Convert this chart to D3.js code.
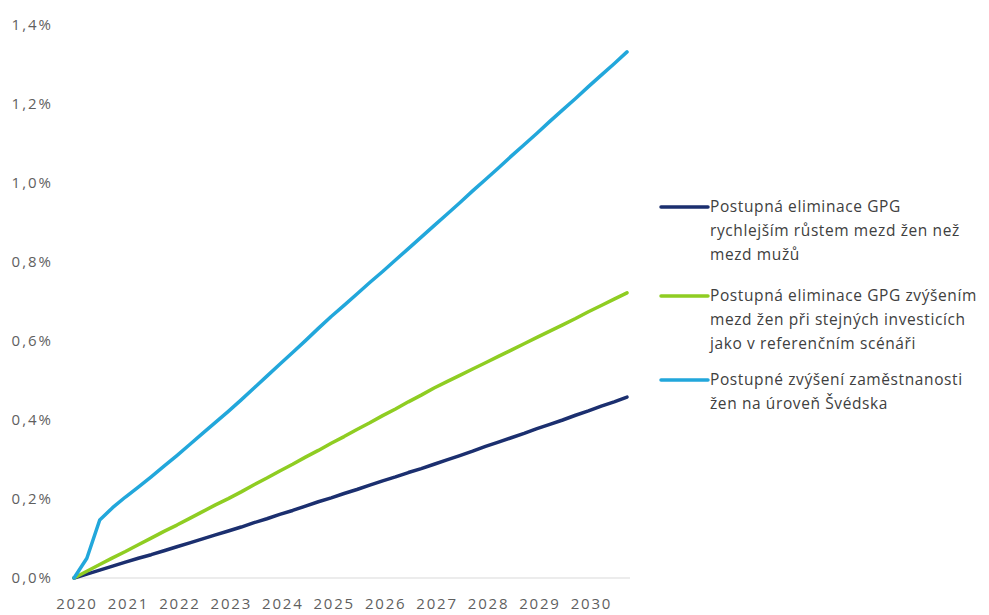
<!DOCTYPE html>
<html>
<head>
<meta charset="utf-8">
<script src="https://cdn.jsdelivr.net/npm/d3@7"></script>
<style>
  body { margin: 0; background: #fff; }
  svg { display: block; font-family: "Open Sans", sans-serif; }
</style>
</head>
<body>
<div id="chart"></div>
<script>
// Čtvrtletní data 2020Q1 – 2030Q4 (v %)
const years = ["2020", "2021", "2022", "2023", "2024", "2025", "2026", "2027", "2028", "2029", "2030"];
const yTicks = [0, 0.2, 0.4, 0.6, 0.8, 1.0, 1.2, 1.4];

const gpgRust = [
    0.000, 0.010, 0.020, 0.030, 0.040, 0.050, 0.059, 0.069, 0.079, 0.089, 0.099,
    0.109, 0.119, 0.129, 0.140, 0.150, 0.161, 0.171, 0.182, 0.193, 0.203, 0.214,
    0.224, 0.235, 0.246, 0.256, 0.267, 0.277, 0.288, 0.299, 0.310, 0.321, 0.333,
    0.344, 0.355, 0.366, 0.378, 0.389, 0.400, 0.412, 0.423, 0.435, 0.446, 0.458
];
const gpgInvestice = [
    0.000, 0.017, 0.034, 0.051, 0.067, 0.084, 0.101, 0.118, 0.134, 0.151, 0.168,
    0.185, 0.201, 0.218, 0.236, 0.253, 0.271, 0.288, 0.306, 0.323, 0.341, 0.358,
    0.376, 0.393, 0.411, 0.428, 0.446, 0.463, 0.481, 0.497, 0.513, 0.529, 0.545,
    0.561, 0.577, 0.593, 0.609, 0.625, 0.641, 0.657, 0.674, 0.690, 0.706, 0.722
];
const zamestnanost = [
    0.000, 0.050, 0.147, 0.178, 0.205, 0.230, 0.256, 0.283, 0.310, 0.338, 0.366,
    0.394, 0.422, 0.451, 0.481, 0.511, 0.541, 0.571, 0.601, 0.632, 0.662, 0.690,
    0.719, 0.748, 0.776, 0.805, 0.834, 0.863, 0.892, 0.921, 0.950, 0.980, 1.009,
    1.038, 1.068, 1.097, 1.126, 1.156, 1.185, 1.214, 1.244, 1.273, 1.302, 1.332
];

const seriesLabels = [
    ["Postupná eliminace GPG", "rychlejším růstem mezd žen než", "mezd mužů"],
    ["Postupná eliminace GPG zvýšením", "mezd žen při stejných investicích", "jako v referenčním scénáři"],
    ["Postupné zvýšení zaměstnanosti", "žen na úroveň Švédska"]
];
const seriesColors = ["#1b2f6f", "#8fcd22", "#22a7db"];
const seriesData = [gpgRust, gpgInvestice, zamestnanost];

const width = 989, height = 615;

const svg = d3.select("#chart").append("svg")
    .attr("width", width)
    .attr("height", height);

const x = d3.scaleLinear().domain([0, 43]).range([74, 627]);
const y = d3.scaleLinear().domain([0, 1.4]).range([578, 25]);

// Osa X (jen linka)
svg.append("line")
    .attr("x1", 72).attr("x2", 630)
    .attr("y1", y(0)).attr("y2", y(0))
    .attr("stroke", "#d9d9d9")
    .attr("stroke-width", 1.2);

// Popisky let
svg.append("g").selectAll("text")
    .data(years)
    .enter().append("text")
    .attr("x", (d, i) => x(i * 4) + 3)
    .attr("y", 609)
    .attr("text-anchor", "middle")
    .attr("font-size", 15)
    .attr("letter-spacing", 1.8)
    .attr("fill", "#5f5f5f")
    .text(d => d);

// Popisky osy Y
const fmt = v => v.toFixed(1).replace(".", ",") + "%";
svg.append("g").selectAll("text")
    .data(yTicks)
    .enter().append("text")
    .attr("x", 53)
    .attr("y", d => y(d) + 5)
    .attr("text-anchor", "end")
    .attr("font-size", 15)
    .attr("letter-spacing", 2)
    .attr("fill", "#5f5f5f")
    .text(fmt);

// Linky
const line = d3.line()
    .x((d, i) => x(i))
    .y(d => y(d));

svg.append("g").selectAll("path")
    .data(seriesData)
    .enter().append("path")
    .attr("d", line)
    .attr("fill", "none")
    .attr("stroke", (d, i) => seriesColors[i])
    .attr("stroke-width", 3.5)
    .attr("stroke-linejoin", "round")
    .attr("stroke-linecap", "round");

// Legenda
const legendTop = [207, 296, 380];
const legend = svg.append("g");
seriesLabels.forEach((lines, i) => {
    legend.append("line")
        .attr("x1", 661).attr("x2", 708)
        .attr("y1", legendTop[i]).attr("y2", legendTop[i])
        .attr("stroke", seriesColors[i])
        .attr("stroke-width", 3.5)
        .attr("stroke-linecap", "round");
    const t = legend.append("text")
        .attr("x", 710)
        .attr("y", legendTop[i] + 5)
        .attr("font-size", 15.5)
        .attr("letter-spacing", 0.6)
        .attr("fill", "#404040");
    lines.forEach((l, j) => {
        t.append("tspan")
            .attr("x", 710)
            .attr("dy", j === 0 ? 0 : 24)
            .text(l);
    });
});
</script>
</body>
</html>
